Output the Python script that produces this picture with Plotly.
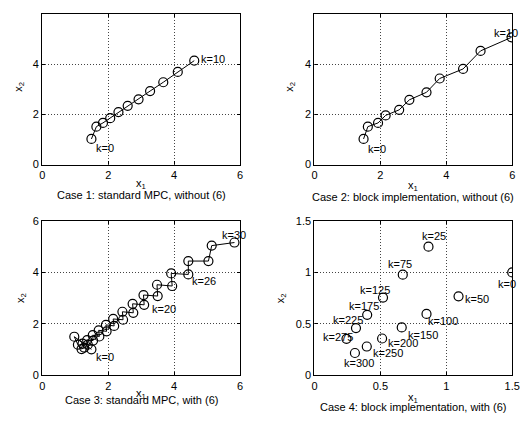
import plotly.graph_objects as go

# Case 1: standard MPC, without (6)
c1_x = [1.49, 1.64, 1.84, 2.06, 2.31, 2.59, 2.92, 3.27, 3.67, 4.11, 4.61]
c1_y = [1.02, 1.51, 1.66, 1.85, 2.09, 2.34, 2.60, 2.93, 3.28, 3.69, 4.14]

# Case 2: block implementation, without (6)
c2_x = [1.49, 1.62, 1.93, 2.16, 2.57, 2.88, 3.40, 3.80, 4.51, 5.04, 5.98]
c2_y = [1.02, 1.51, 1.66, 1.96, 2.18, 2.58, 2.88, 3.43, 3.81, 4.53, 5.07]

# Case 3: standard MPC, with (6)  (k = 0..30)
c3_x = [1.49, 0.97, 1.08, 1.19, 1.27, 1.22, 1.38, 1.36, 1.54, 1.53, 1.73,
        1.71, 1.95, 1.93, 2.18, 2.15, 2.45, 2.43, 2.76, 2.74, 3.09, 3.07,
        3.50, 3.48, 3.94, 3.91, 4.43, 4.43, 5.04, 5.14, 5.83]
c3_y = [1.01, 1.50, 1.19, 1.02, 1.08, 1.23, 1.19, 1.37, 1.35, 1.56, 1.51,
        1.75, 1.71, 1.96, 1.92, 2.19, 2.16, 2.47, 2.43, 2.78, 2.74, 3.12,
        3.08, 3.52, 3.47, 3.96, 3.92, 4.44, 4.44, 5.04, 5.16]

# Case 4: block implementation, with (6)
c4_k = [0, 25, 50, 75, 100, 125, 150, 175, 200, 225, 250, 275, 300]
c4_x = [1.50, 0.865, 1.093, 0.67, 0.85, 0.52, 0.662, 0.40, 0.513, 0.315, 0.397, 0.243, 0.307]
c4_y = [1.00, 1.25, 0.767, 0.978, 0.597, 0.755, 0.465, 0.588, 0.358, 0.459, 0.28, 0.355, 0.217]

captions = ["Case 1: standard MPC, without (6)",
            "Case 2: block implementation, without (6)",
            "Case 3: standard MPC, with (6)",
            "Case 4: block implementation, with (6)"]

# the page body has an 8px default margin; size the figure to fit the window
OFF = 8
W, H = 529 - OFF, 427 - OFF
FONT = "Liberation Sans, Arial, Helvetica, sans-serif"
TXT = dict(family=FONT, size=11, color="black")

def px_x(p):
    return (p - OFF) / W

def px_y(p):
    return 1 - (p - OFF) / H

# panel boxes in window pixels: (left, right, top, bottom)
boxes = [(40, 242, 3, 163), (318, 520, 3, 163), (40, 242, 221, 380), (318, 520, 221, 380)]

fig = go.Figure()
line_style = dict(color="black", width=1)
mk = dict(symbol="circle-open", size=9, color="black", line=dict(width=1.2, color="black"))

fig.add_trace(go.Scatter(x=c1_x, y=c1_y, mode="lines+markers", line=line_style, marker=mk,
                         xaxis="x", yaxis="y", showlegend=False, hoverinfo="skip"))
fig.add_trace(go.Scatter(x=c2_x, y=c2_y, mode="lines+markers", line=line_style, marker=mk,
                         xaxis="x2", yaxis="y2", showlegend=False, hoverinfo="skip"))
fig.add_trace(go.Scatter(x=c3_x, y=c3_y, mode="lines+markers", line=line_style, marker=mk,
                         xaxis="x3", yaxis="y3", showlegend=False, hoverinfo="skip"))
fig.add_trace(go.Scatter(x=c4_x, y=c4_y, mode="markers", marker=mk,
                         xaxis="x4", yaxis="y4", showlegend=False, hoverinfo="skip"))

axis_common = dict(showline=True, linecolor="black", linewidth=1.3, mirror="ticks",
                   ticks="inside", ticklen=3, tickcolor="black",
                   showgrid=True, gridcolor="#444444", griddash="1px,2px", gridwidth=1,
                   zeroline=False, tickfont=TXT)

layout = dict(width=W, height=H, margin=dict(l=0, r=0, t=0, b=0),
              plot_bgcolor="white", paper_bgcolor="white",
              font=TXT)

names = ["", "2", "3", "4"]
for i, (l, r, t, b) in enumerate(boxes):
    n = names[i]
    if i < 3:
        rng = [0, 6]
        tv = [0, 2, 4, 6]
        tt = ["0", "2", "4", "6"]
    else:
        rng = [0, 1.5]
        tv = [0, 0.5, 1, 1.5]
        tt = ["0", "0.5", "1", "1.5"]
    layout["xaxis" + n] = dict(axis_common, domain=[px_x(l), min(1.0, px_x(r))], range=rng,
                               tickvals=tv, ticktext=tt, anchor="y" + n)
    layout["yaxis" + n] = dict(axis_common, domain=[px_y(b), min(1.0, px_y(t))], range=rng,
                               tickvals=tv, ticktext=tt, anchor="x" + n)

fig.update_layout(**layout)

ann = []
# axis labels and captions (window pixel positions)
xlab_y = [183, 185, 399, 403]
cap_y = [194, 196, 405, 413]
ylab_x = [16, 293, 18, 284]
for i, (l, r, t, b) in enumerate(boxes):
    cx = (l + r) / 2
    ann.append(dict(x=px_x(cx), y=px_y(xlab_y[i]), xref="paper", yref="paper",
                    text="x<sub>1</sub>", showarrow=False, xanchor="center", yanchor="middle",
                    font=TXT))
    ann.append(dict(x=px_x(cx), y=px_y(cap_y[i]), xref="paper", yref="paper",
                    text=captions[i], showarrow=False, xanchor="center", yanchor="middle",
                    font=TXT))
    ann.append(dict(x=px_x(ylab_x[i]), y=px_y((t + b) / 2), xref="paper", yref="paper",
                    text="x<sub>2</sub>", showarrow=False, textangle=-90,
                    xanchor="center", yanchor="middle", font=TXT))

def lab(txt, x, y, ax, xa="left"):
    ann.append(dict(x=x, y=y, xref="x" + ax, yref="y" + ax, text=txt, showarrow=False,
                    xanchor=xa, yanchor="middle", font=TXT))

lab("k=0", 1.57, 0.68, "")
lab("k=10", 4.75, 4.19, "")
lab("k=0", 1.57, 0.64, "2")
lab("k=10", 5.40, 5.25, "2")
lab("k=0", 1.57, 0.72, "3")
lab("k=20", 3.26, 2.57, "3")
lab("k=26", 4.48, 3.66, "3")
lab("k=30", 5.40, 5.47, "3")

c4_lab = {0: (1.46, 0.89, "center"), 25: (0.905, 1.35, "center"), 50: (1.128, 0.739, "left"),
          75: (0.65, 1.085, "center"), 100: (0.848, 0.525, "left"), 125: (0.456, 0.827, "center"),
          150: (0.694, 0.39, "left"), 175: (0.377, 0.67, "center"), 200: (0.546, 0.318, "left"),
          225: (0.253, 0.538, "center"), 250: (0.426, 0.214, "left"), 275: (0.179, 0.374, "center"),
          300: (0.34, 0.12, "center")}
for k in c4_k:
    x, y, xa = c4_lab[k]
    lab("k=%d" % k, x, y, "4", xa)

fig.update_layout(annotations=ann)
fig.write_html("out.html")
